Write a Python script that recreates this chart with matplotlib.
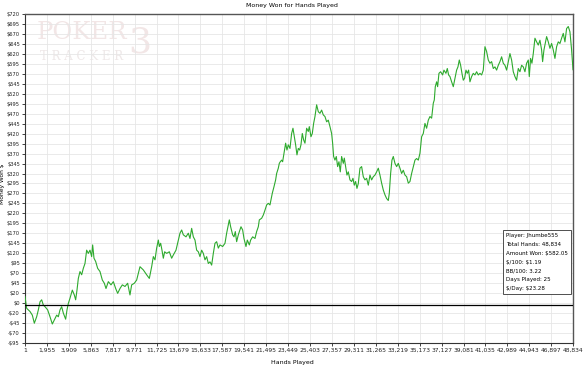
import numpy as np
import matplotlib
matplotlib.use("Agg")
import matplotlib.pyplot as plt

plt.rcParams['text.parse_math'] = False

# hands played / cumulative money won
hands = [
    1, 149, 447, 654, 832, 1041, 1189, 1338, 1486, 1634, 1783, 2021, 2229, 2436, 2614,
    2823, 2971, 3120, 3268, 3417, 3624, 3743, 3862, 4011, 4218, 4396, 4515, 4634, 4753,
    4901, 5050, 5198, 5347, 5495, 5644, 5793, 5941, 6030, 6149, 6297, 6475, 6684, 6892,
    7070, 7219, 7427, 7664, 7872, 8081, 8259, 8466, 8674, 8911, 9149, 9356, 9505, 9743,
    9951,
    10248, 10545, 10842, 11080, 11288, 11436, 11585, 11733, 11882, 11971, 12089, 12208,
    12327, 12446, 12624, 12862, 13070, 13218, 13456, 13664, 13812, 13961, 14109, 14347,
    14555, 14703, 14852, 15000, 15149, 15297, 15446, 15594, 15743, 15891, 16040, 16188,
    16337, 16485, 16634, 16782, 16931, 17079, 17228, 17376, 17614, 17822, 17970, 18119,
    18208, 18326, 18505, 18623, 18742, 18861, 19010, 19158, 19247, 19396, 19514, 19693,
    19811, 19990, 20108, 20287, 20495, 20643, 20792, 20881,
    21088, 21237, 21385, 21534, 21682, 21831, 21920, 22038, 22187, 22335, 22425, 22573,
    22662, 22751, 22870, 22959, 23108, 23226, 23345, 23464, 23613, 23761, 23880, 23999,
    24117, 24236, 24355, 24474, 24593, 24711, 24830, 24949, 25098, 25246, 25335, 25484,
    25602, 25721, 25840, 25989, 26137, 26286, 26434, 26583, 26731, 26880, 27028, 27177,
    27325, 27414, 27503, 27622, 27741, 27860, 27978, 28097, 28216, 28365, 28454, 28572,
    28691, 28810, 28959, 29107, 29226, 29345, 29463, 29582, 29701, 29849, 29998, 30146,
    30295, 30443, 30592, 30741, 30889, 31038, 31186,
    31335, 31484, 31632, 31781, 31929, 32078, 32226, 32375, 32464, 32582, 32701, 32820,
    32969, 33117, 33266, 33414, 33563, 33711, 33860, 34008, 34157, 34305, 34454, 34602,
    34751, 34899, 35048, 35196, 35345, 35493, 35642, 35790, 35939, 36087, 36236, 36384,
    36473, 36562, 36681, 36770, 36889, 37037, 37215, 37334, 37513, 37631, 37750, 37869,
    38018, 38166, 38315, 38463, 38582, 38701, 38820, 38939, 39057, 39176, 39295, 39414,
    39532, 39651, 39800, 39948, 40097, 40245, 40394, 40542,
    40691, 40839, 40988, 41136, 41285, 41433, 41582, 41730, 41879, 42027, 42176, 42324,
    42473, 42621, 42770, 42918, 43067, 43215, 43364, 43512, 43661, 43809, 43958, 44106,
    44255, 44403, 44552, 44700, 44849, 44938, 45056, 45175, 45294, 45443, 45591, 45740,
    45888, 46037, 46126, 46245, 46363, 46482, 46631, 46779, 46928, 47076, 47225, 47373,
    47522, 47670, 47819, 47967, 48116, 48264, 48413, 48561, 48710, 48834,
]
won = [
    20, -9, -17, -26, -46, -30, -13, 7, 12, -1, -5, -13, -30, -48, -38,
    -26, -30, -13, -5, -21, -36, -13, 3, 16, 36, 24, 12, 36, 65,
    82, 74, 90, 102, 135, 127, 135, 119, 148, 115, 107, 90, 82, 61,
    53, 40, 57, 49, 57, 40, 28, 40, 49, 45, 53, 24, 49, 53,
    61,
    94, 86, 74, 65, 94, 119, 111, 140, 160, 144, 152, 135,
    115, 131, 127, 131, 115, 123, 135, 160, 177, 185, 173, 168,
    177, 164, 189, 168, 160, 135, 131, 119, 135, 127, 111, 119,
    102, 106, 98, 127, 152, 156, 140, 148, 144, 152, 177, 197,
    210, 193, 173, 168, 181, 156, 173, 185, 193, 185, 164, 144,
    160, 148, 160, 168, 164, 181, 193, 210,
    214, 222, 234, 247, 251, 247, 259, 276, 292, 309, 325, 338,
    350, 354, 358, 354, 379, 400, 383, 396, 387, 424, 437, 416,
    396, 371, 387, 383, 396, 424, 408, 400, 437, 429, 441, 416,
    424, 449, 466, 495, 478, 474, 482, 470, 466, 453, 457, 441,
    424, 400, 367, 358, 367, 342, 354, 329, 367, 350, 363, 342,
    321, 329, 309, 305, 313, 296, 305, 288, 300, 338, 342, 317,
    309, 313, 296, 321, 309, 317, 321,
    329, 338, 321, 301, 284, 272, 263, 258, 276, 325, 358, 367,
    350, 342, 350, 338, 325, 333, 321, 317, 301, 305, 325, 342,
    358, 362, 358, 375, 416, 424, 449, 437, 457, 466, 462, 499,
    507, 540, 552, 540, 573, 577, 569, 581, 573, 585, 569, 565,
    552, 540, 561, 581, 589, 606, 593, 573, 556, 561, 581, 573,
    581, 552, 565, 573, 569, 577, 569, 573,
    569, 581, 639, 627, 606, 598, 602, 585, 589, 581, 593, 602,
    614, 598, 593, 581, 602, 622, 606, 577, 565, 556, 585, 577,
    593, 589, 577, 598, 606, 565, 610, 598, 622, 660, 651, 643,
    655, 631, 602, 631, 647, 664, 651, 635, 647, 631, 610, 639,
    651, 647, 660, 672, 651, 684, 689, 676, 631, 582,
]

x_ticks = [1 + 1954 * k for k in range(25)] + [48834]
y_labels = ["-$95", "-$70", "-$45", "-$20", "$0", "$20"] + \
    ["$%d" % v for v in range(45, 721, 25)]

stats = [
    "Player: Jhumbe555",
    "Total Hands: 48,834",
    "Amount Won: $582.05",
    "$/100: $1.19",
    "BB/100: 3.22",
    "Days Played: 25",
    "$/Day: $23.28",
]

fig = plt.figure(figsize=(5.84, 3.68), dpi=100)
ax = fig.add_axes([25 / 584, 25 / 368, 548 / 584, 329 / 368])

ax.plot(hands, won, color='#2eaa2e', lw=0.8, zorder=3)
ax.axhline(0, color='black', lw=0.9, zorder=4)

ax.set_xlim(1, 48834)
ax.set_ylim(-95, 720)
ax.set_xticks(x_ticks)
ax.set_xticklabels(["{:,}".format(t) for t in x_ticks], fontsize=4.3)
y_pos = np.linspace(-95, 720, len(y_labels))
ax.set_yticks(y_pos)
ax.set_yticklabels(y_labels, fontsize=3.7)
ax.tick_params(length=2.5, width=0.6, pad=1.2, colors='#222222')
ax.grid(True, color='#e6e6e6', lw=0.6, zorder=0)

for s in ['top', 'right']:
    ax.spines[s].set_color('#555555')
    ax.spines[s].set_linewidth(1.0)
for s in ['left', 'bottom']:
    ax.spines[s].set_color('#333333')
    ax.spines[s].set_linewidth(0.8)

fig.text(0.5, 0.985, "Money Won for Hands Played", ha='center', va='center', fontsize=4.5)
fig.text(0.5, 0.015, "Hands Played", ha='center', va='center', fontsize=4.5)
fig.text(0.005, 0.5, "Money Won $", ha='center', va='center', rotation=90, fontsize=4.3)

# watermark
ax.text(0.022, 0.945, "POKER", transform=ax.transAxes, fontsize=17.5, family='DejaVu Serif',
        color='#f2e6e6', va='center', ha='left', zorder=1)
ax.text(0.027, 0.87, "T R A C K E R", transform=ax.transAxes, fontsize=8.5, family='DejaVu Serif',
        color='#eee8e8', va='center', ha='left', zorder=1)
ax.text(0.188, 0.912, "3", transform=ax.transAxes, fontsize=26, family='DejaVu Serif',
        color='#f2e6e6', va='center', ha='left', zorder=1)

# stats box
ax.text(0.877, 0.333, "\n".join(stats), transform=ax.transAxes, fontsize=4.0,
        va='top', ha='left', linespacing=1.95, zorder=5,
        bbox=dict(boxstyle='square,pad=0.55', fc='white', ec='#333333', lw=0.6))

fig.savefig("out.png", dpi=100)
